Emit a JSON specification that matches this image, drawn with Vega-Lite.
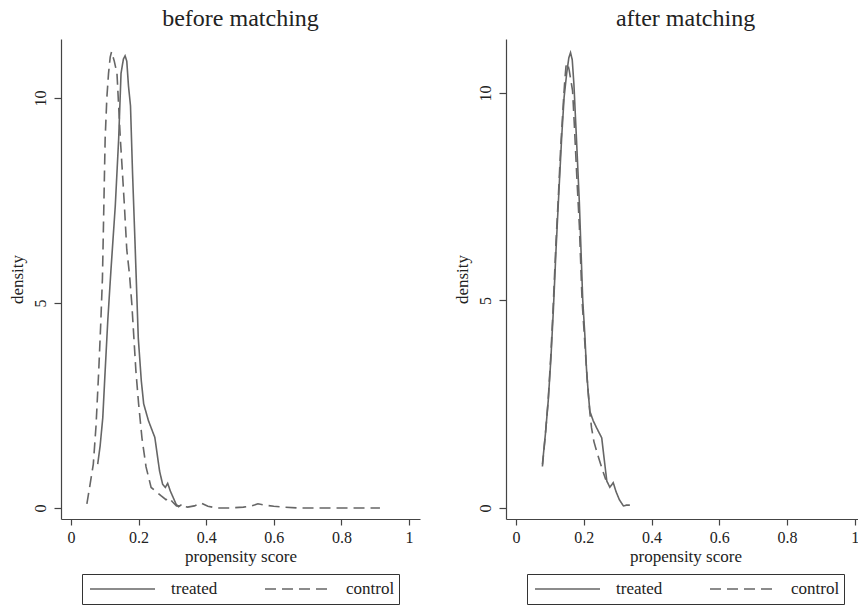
{
  "$schema": "https://vega.github.io/schema/vega-lite/v6.json",
  "background": "white",
  "padding": {"left": 8, "top": 7, "right": 0, "bottom": 0},
  "spacing": 33,
  "config": {
    "view": {"stroke": null},
    "font": "Liberation Serif",
    "title": {"font": "Liberation Serif", "fontSize": 24, "fontWeight": "normal", "color": "#222", "anchor": "middle", "frame": "group", "offset": 8},
    "axis": {"grid": false, "domainColor": "#444", "tickColor": "#444", "domainWidth": 1.2, "tickWidth": 1.2, "labelFont": "Liberation Serif", "labelFontSize": 16, "labelColor": "#222", "titleFont": "Liberation Serif", "titleFontSize": 17, "titleFontWeight": "normal", "titleColor": "#222"},
    "axisX": {"tickSize": 6, "labelPadding": 4, "titlePadding": 3},
    "axisY": {"tickSize": 7, "labelAngle": 270, "labelPadding": 6, "titlePadding": 6},
    "legend": {"orient": "bottom", "direction": "horizontal", "layout": {"bottom": {"anchor": "middle"}}, "strokeColor": "#333", "fillColor": "white", "padding": 4, "symbolOffset": 3, "symbolType": "stroke", "symbolSize": 4225, "clipHeight": 22, "symbolStrokeWidth": 1.4, "symbolStrokeColor": "#666", "labelFont": "Liberation Serif", "labelFontSize": 17, "labelColor": "#222", "columnPadding": 43, "labelOffset": 15, "offset": 10}
  },
  "datasets": {
    "before": [
      {"group": "treated", "x": 0.079, "y": 1.07},
      {"group": "treated", "x": 0.086, "y": 1.5},
      {"group": "treated", "x": 0.094, "y": 2.2},
      {"group": "treated", "x": 0.101, "y": 3.34},
      {"group": "treated", "x": 0.109, "y": 4.6},
      {"group": "treated", "x": 0.118, "y": 5.78},
      {"group": "treated", "x": 0.131, "y": 7.37},
      {"group": "treated", "x": 0.141, "y": 9.0},
      {"group": "treated", "x": 0.148, "y": 10.6},
      {"group": "treated", "x": 0.155, "y": 10.95},
      {"group": "treated", "x": 0.16, "y": 11.03},
      {"group": "treated", "x": 0.165, "y": 10.9},
      {"group": "treated", "x": 0.17, "y": 10.3},
      {"group": "treated", "x": 0.176, "y": 9.81},
      {"group": "treated", "x": 0.182, "y": 8.19},
      {"group": "treated", "x": 0.189, "y": 6.56},
      {"group": "treated", "x": 0.193, "y": 5.6},
      {"group": "treated", "x": 0.199, "y": 4.15},
      {"group": "treated", "x": 0.208, "y": 3.1},
      {"group": "treated", "x": 0.215, "y": 2.54},
      {"group": "treated", "x": 0.229, "y": 2.13},
      {"group": "treated", "x": 0.248, "y": 1.72},
      {"group": "treated", "x": 0.262, "y": 0.9},
      {"group": "treated", "x": 0.271, "y": 0.58},
      {"group": "treated", "x": 0.279, "y": 0.5},
      {"group": "treated", "x": 0.286, "y": 0.6},
      {"group": "treated", "x": 0.294, "y": 0.41},
      {"group": "treated", "x": 0.311, "y": 0.09},
      {"group": "treated", "x": 0.318, "y": 0.03},
      {"group": "treated", "x": 0.327, "y": 0.08},
      {"group": "control", "x": 0.047, "y": 0.1},
      {"group": "control", "x": 0.055, "y": 0.5},
      {"group": "control", "x": 0.066, "y": 1.07},
      {"group": "control", "x": 0.074, "y": 2.0},
      {"group": "control", "x": 0.082, "y": 3.34},
      {"group": "control", "x": 0.088, "y": 4.5},
      {"group": "control", "x": 0.093, "y": 5.6},
      {"group": "control", "x": 0.097, "y": 7.3},
      {"group": "control", "x": 0.101, "y": 9.0},
      {"group": "control", "x": 0.106, "y": 10.0},
      {"group": "control", "x": 0.111, "y": 10.6},
      {"group": "control", "x": 0.116, "y": 11.0},
      {"group": "control", "x": 0.12, "y": 11.13},
      {"group": "control", "x": 0.128, "y": 10.9},
      {"group": "control", "x": 0.136, "y": 10.6},
      {"group": "control", "x": 0.146, "y": 9.0},
      {"group": "control", "x": 0.152, "y": 8.2},
      {"group": "control", "x": 0.158, "y": 7.37},
      {"group": "control", "x": 0.165, "y": 6.3},
      {"group": "control", "x": 0.173, "y": 5.7},
      {"group": "control", "x": 0.18, "y": 4.97},
      {"group": "control", "x": 0.192, "y": 3.34},
      {"group": "control", "x": 0.2, "y": 2.54},
      {"group": "control", "x": 0.21, "y": 1.7},
      {"group": "control", "x": 0.222, "y": 1.0},
      {"group": "control", "x": 0.237, "y": 0.5},
      {"group": "control", "x": 0.256, "y": 0.37},
      {"group": "control", "x": 0.266, "y": 0.3},
      {"group": "control", "x": 0.281, "y": 0.2},
      {"group": "control", "x": 0.29, "y": 0.25},
      {"group": "control", "x": 0.3, "y": 0.15},
      {"group": "control", "x": 0.312, "y": 0.05},
      {"group": "control", "x": 0.325, "y": 0.05},
      {"group": "control", "x": 0.345, "y": 0.02},
      {"group": "control", "x": 0.365, "y": 0.05},
      {"group": "control", "x": 0.385, "y": 0.12},
      {"group": "control", "x": 0.405, "y": 0.04},
      {"group": "control", "x": 0.43, "y": 0.0},
      {"group": "control", "x": 0.47, "y": 0.0},
      {"group": "control", "x": 0.51, "y": 0.02},
      {"group": "control", "x": 0.535, "y": 0.05},
      {"group": "control", "x": 0.553, "y": 0.1},
      {"group": "control", "x": 0.58, "y": 0.06},
      {"group": "control", "x": 0.6, "y": 0.04},
      {"group": "control", "x": 0.63, "y": 0.02},
      {"group": "control", "x": 0.67, "y": 0.0},
      {"group": "control", "x": 0.72, "y": 0.0},
      {"group": "control", "x": 0.78, "y": 0.0},
      {"group": "control", "x": 0.84, "y": 0.0},
      {"group": "control", "x": 0.914, "y": 0.0}
    ],
    "after": [
      {"group": "treated", "x": 0.078, "y": 1.05},
      {"group": "treated", "x": 0.087, "y": 1.8},
      {"group": "treated", "x": 0.095, "y": 2.57},
      {"group": "treated", "x": 0.103, "y": 3.6},
      {"group": "treated", "x": 0.11, "y": 4.72},
      {"group": "treated", "x": 0.118, "y": 6.2},
      {"group": "treated", "x": 0.125, "y": 7.36},
      {"group": "treated", "x": 0.135, "y": 8.96},
      {"group": "treated", "x": 0.142, "y": 9.9},
      {"group": "treated", "x": 0.15, "y": 10.5},
      {"group": "treated", "x": 0.156, "y": 10.85},
      {"group": "treated", "x": 0.161, "y": 10.97},
      {"group": "treated", "x": 0.166, "y": 10.8},
      {"group": "treated", "x": 0.171, "y": 10.2},
      {"group": "treated", "x": 0.179, "y": 8.8},
      {"group": "treated", "x": 0.187, "y": 7.36},
      {"group": "treated", "x": 0.197, "y": 5.0},
      {"group": "treated", "x": 0.203, "y": 4.2},
      {"group": "treated", "x": 0.208, "y": 3.36},
      {"group": "treated", "x": 0.213, "y": 2.8},
      {"group": "treated", "x": 0.218, "y": 2.33},
      {"group": "treated", "x": 0.228, "y": 2.1},
      {"group": "treated", "x": 0.238, "y": 1.93},
      {"group": "treated", "x": 0.253, "y": 1.69},
      {"group": "treated", "x": 0.26, "y": 1.2},
      {"group": "treated", "x": 0.268, "y": 0.65},
      {"group": "treated", "x": 0.277, "y": 0.5},
      {"group": "treated", "x": 0.287, "y": 0.61},
      {"group": "treated", "x": 0.295, "y": 0.4},
      {"group": "treated", "x": 0.305, "y": 0.2},
      {"group": "treated", "x": 0.317, "y": 0.05},
      {"group": "treated", "x": 0.326, "y": 0.07},
      {"group": "treated", "x": 0.336, "y": 0.07},
      {"group": "control", "x": 0.078, "y": 1.0},
      {"group": "control", "x": 0.087, "y": 1.8},
      {"group": "control", "x": 0.095, "y": 2.6},
      {"group": "control", "x": 0.103, "y": 3.7},
      {"group": "control", "x": 0.11, "y": 4.9},
      {"group": "control", "x": 0.118, "y": 6.4},
      {"group": "control", "x": 0.125, "y": 7.5},
      {"group": "control", "x": 0.132, "y": 8.7},
      {"group": "control", "x": 0.1395, "y": 9.73},
      {"group": "control", "x": 0.144, "y": 10.3},
      {"group": "control", "x": 0.1475, "y": 10.64},
      {"group": "control", "x": 0.152, "y": 10.72},
      {"group": "control", "x": 0.157, "y": 10.55},
      {"group": "control", "x": 0.162, "y": 10.3},
      {"group": "control", "x": 0.167, "y": 10.05},
      {"group": "control", "x": 0.172, "y": 9.26},
      {"group": "control", "x": 0.18, "y": 7.9},
      {"group": "control", "x": 0.187, "y": 6.8},
      {"group": "control", "x": 0.195, "y": 5.0},
      {"group": "control", "x": 0.203, "y": 4.0},
      {"group": "control", "x": 0.21, "y": 3.1},
      {"group": "control", "x": 0.218, "y": 2.3},
      {"group": "control", "x": 0.223, "y": 1.93},
      {"group": "control", "x": 0.23, "y": 1.6},
      {"group": "control", "x": 0.238, "y": 1.37},
      {"group": "control", "x": 0.248, "y": 1.1},
      {"group": "control", "x": 0.258, "y": 0.85},
      {"group": "control", "x": 0.265, "y": 0.68}
    ]
  },
  "hconcat": [
    {
      "title": "before matching",
      "width": 359,
      "height": 480,
      "data": {"name": "before"},
      "mark": {"type": "line", "color": "#666", "strokeWidth": 1.6, "clip": true},
      "encoding": {
        "x": {"field": "x", "type": "quantitative", "scale": {"domain": [-0.0296, 1.0325], "nice": false, "zero": false}, "axis": {"values": [0, 0.2, 0.4, 0.6, 0.8, 1], "format": "~g", "title": "propensity score"}},
        "y": {"field": "y", "type": "quantitative", "scale": {"domain": [-0.27, 11.44], "nice": false, "zero": false}, "axis": {"values": [0, 5, 10], "format": "d", "title": "density"}},
        "strokeDash": {"field": "group", "type": "nominal", "scale": {"domain": ["treated", "control"], "range": [[1, 0], [11, 6]]}, "legend": {"title": null}}
      }
    },
    {
      "title": "after matching",
      "width": 359,
      "height": 480,
      "data": {"name": "after"},
      "mark": {"type": "line", "color": "#666", "strokeWidth": 1.6, "clip": true},
      "encoding": {
        "x": {"field": "x", "type": "quantitative", "scale": {"domain": [-0.0295, 1.03], "nice": false, "zero": false}, "axis": {"values": [0, 0.2, 0.4, 0.6, 0.8, 1], "format": "~g", "title": "propensity score"}},
        "y": {"field": "y", "type": "quantitative", "scale": {"domain": [-0.265, 11.3], "nice": false, "zero": false}, "axis": {"values": [0, 5, 10], "format": "d", "title": "density"}},
        "strokeDash": {"field": "group", "type": "nominal", "scale": {"domain": ["treated", "control"], "range": [[1, 0], [11, 6]]}, "legend": {"title": null}}
      }
    }
  ],
  "resolve": {"scale": {"x": "independent", "y": "independent", "strokeDash": "independent"}, "legend": {"strokeDash": "independent"}}
}
